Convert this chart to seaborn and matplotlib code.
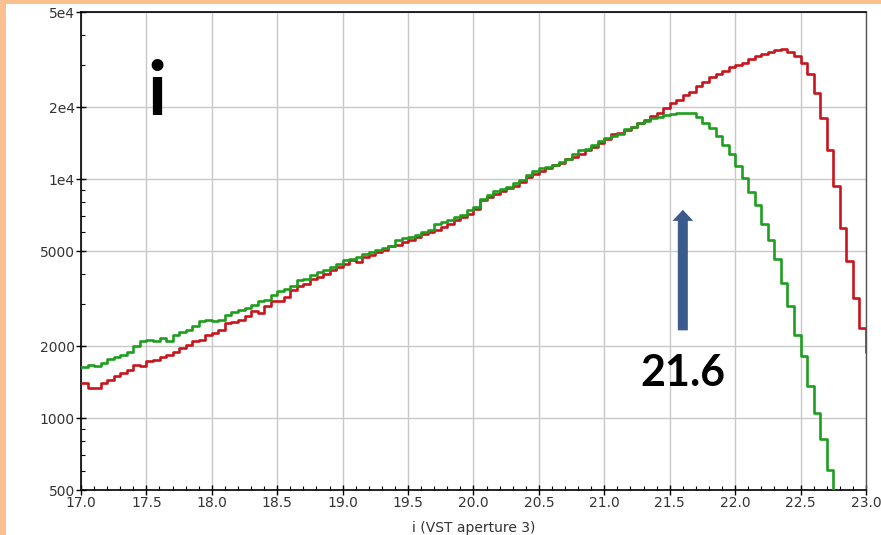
import numpy as np
import pandas as pd
import matplotlib
matplotlib.use("Agg")
import matplotlib.pyplot as plt
from matplotlib.patches import Rectangle
from matplotlib.ticker import FixedLocator, FixedFormatter, LogLocator, MultipleLocator, NullFormatter
import seaborn as sns

# Histogram binning (magnitudes)
BIN_START = 17.0
BIN_WIDTH = 0.05

# Counts per 0.05 mag bin
red_counts = [
    1400, 1340, 1340, 1400, 1450, 1495, 1545, 1595, 1675, 1645,
    1730, 1755, 1800, 1840, 1900, 1965, 2030, 2095, 2130, 2235,
    2270, 2345, 2500, 2515, 2580, 2665, 2795, 2750, 2935, 3080,
    3080, 3210, 3430, 3590, 3650, 3830, 3900, 4020, 4150, 4290,
    4430, 4570, 4500, 4720, 4800, 4950, 5050, 5230, 5300, 5450,
    5545, 5720, 5910, 6005, 6145, 6300, 6510, 6720, 6940, 7170,
    7500, 8200, 8400, 8650, 8900, 9150, 9400, 9750, 10200, 10550,
    10850, 11100, 11450, 11750, 12150, 12450, 12800, 13200, 13650, 14200,
    14700, 15430, 15600, 16000, 16500, 17250, 17650, 18400, 19000, 19900,
    20900, 21500, 22600, 23300, 24600, 25600, 26700, 27600, 28300, 29500,
    30200, 30800, 31800, 32800, 33400, 34200, 34900, 35100, 34000, 32700,
    30600, 27500, 23000, 18100, 13300, 9400, 6250, 4560, 3180, 2380,
    1900,
]
green_counts = [
    1630, 1670, 1645, 1700, 1770, 1800, 1840, 1900, 1995, 2095,
    2130, 2095, 2160, 2095, 2230, 2285, 2345, 2420, 2540, 2565,
    2540, 2580, 2710, 2770, 2840, 2890, 2980, 3080, 3130, 3285,
    3390, 3480, 3590, 3770, 3830, 3960, 4090, 4160, 4290, 4420,
    4570, 4650, 4720, 4880, 4950, 5080, 5150, 5230, 5580, 5650,
    5720, 5850, 6005, 6140, 6510, 6600, 6720, 6940, 7100, 7400,
    7640, 8300, 8600, 8900, 9100, 9300, 9600, 9900, 10400, 10800,
    11100, 11300, 11500, 11800, 12100, 12700, 13200, 13400, 13900, 14400,
    14900, 15200, 15500, 16200, 16600, 17200, 17500, 18000, 18300, 18600,
    18700, 18900, 19000, 18900, 18290, 17160, 16350, 15180, 13930, 12770,
    11370, 10160, 8880, 7810, 6500, 5575, 4630, 3695, 2960, 2233,
    1811, 1366, 1050, 817, 608, 400,
]

x_ticks = [17.0, 17.5, 18.0, 18.5, 19.0, 19.5, 20.0, 20.5, 21.0, 21.5, 22.0, 22.5, 23.0]
x_tick_labels = ["17.0", "17.5", "18.0", "18.5", "19.0", "19.5", "20.0",
                 "20.5", "21.0", "21.5", "22.0", "22.5", "23.0"]
y_ticks = [500, 1000, 2000, 5000, 10000, 20000, 50000]
y_tick_labels = ["500", "1000", "2000", "5000", "1e4", "2e4", "5e4"]

band_label = "i"
x_label = "i (VST aperture 3)"
limit_mag = 21.6
limit_text = "21.6"
arrow_from, arrow_to = 2330, 7450

RED = "#c8141c"
GREEN = "#1e9e1e"
PEACH = "#fac08f"
ARROW = "#3b5b8c"


def to_frame(counts):
    n = len(counts)
    edges = np.round(BIN_START + BIN_WIDTH * np.arange(n + 1), 3)
    centers = (edges[:-1] + edges[1:]) / 2
    return pd.DataFrame({"mag": centers, "count": counts}), edges.tolist()


sns.set_theme(style="ticks")
plt.rcParams["font.family"] = ["DejaVu Sans"]

fig = plt.figure(figsize=(8.81, 5.35), dpi=100)
fig.patch.set_facecolor(PEACH)
fig.patches.append(Rectangle((6 / 881, 0), 1, (535 - 4) / 535,
                             transform=fig.transFigure, facecolor="white",
                             edgecolor="none", zorder=-10))
ax = fig.add_axes([81 / 881, 1 - 490 / 535, (866 - 81) / 881, (490 - 12.3) / 535])
ax.set_facecolor("white")

for counts, color in [(red_counts, RED), (green_counts, GREEN)]:
    df, edges = to_frame(counts)
    sns.histplot(data=df, x="mag", weights="count", bins=edges, element="step",
                 fill=False, color=color, linewidth=1.9, ax=ax, zorder=3)

ax.set_yscale("log")
ax.set_xlim(17.0, 23.0)
ax.set_ylim(500, 50000)

ax.xaxis.set_major_locator(FixedLocator(x_ticks))
ax.xaxis.set_major_formatter(FixedFormatter(x_tick_labels))
ax.xaxis.set_minor_locator(MultipleLocator(0.1))
ax.yaxis.set_major_locator(FixedLocator(y_ticks))
ax.yaxis.set_major_formatter(FixedFormatter(y_tick_labels))
ax.yaxis.set_minor_locator(LogLocator(base=10, subs=np.arange(2, 10)))
ax.yaxis.set_minor_formatter(NullFormatter())

ax.grid(True, which="major", color="#c8c8c8", linewidth=1.0, zorder=0)
ax.set_axisbelow(True)
ax.tick_params(axis="both", which="major", direction="inout", length=7,
               width=1.0, color="black", labelsize=10, labelcolor="#333333", pad=1)
ax.tick_params(axis="both", which="minor", direction="in", length=3,
               width=0.8, color="black")
for side in ["left", "bottom", "top"]:
    ax.spines[side].set_color("black")
    ax.spines[side].set_linewidth(1.2)
ax.spines["right"].set_color("#555555")
ax.spines["right"].set_linewidth(1.0)

ax.set_ylabel("")
ax.set_xlabel(x_label, fontsize=10, color="#333333", va="center")
ax.xaxis.set_label_coords(0.5, -0.08)

ax.text(17.58, 0.83, band_label, transform=ax.get_xaxis_transform(),
        fontsize=54, fontweight="bold", family="Lato", color="black",
        ha="center", va="center")

ax.annotate("", xy=(limit_mag, arrow_to), xytext=(limit_mag, arrow_from),
            arrowprops=dict(arrowstyle="simple,head_width=1.5,head_length=0.8,tail_width=0.72",
                            mutation_scale=10, facecolor=ARROW, edgecolor="none",
                            shrinkA=0, shrinkB=0), zorder=4)
ax.text(limit_mag, 1540, limit_text, fontsize=31, fontweight="bold",
        family="Lato", color="black", ha="center", va="center", zorder=4)

fig.savefig("out.png", dpi=100, facecolor=fig.get_facecolor())
